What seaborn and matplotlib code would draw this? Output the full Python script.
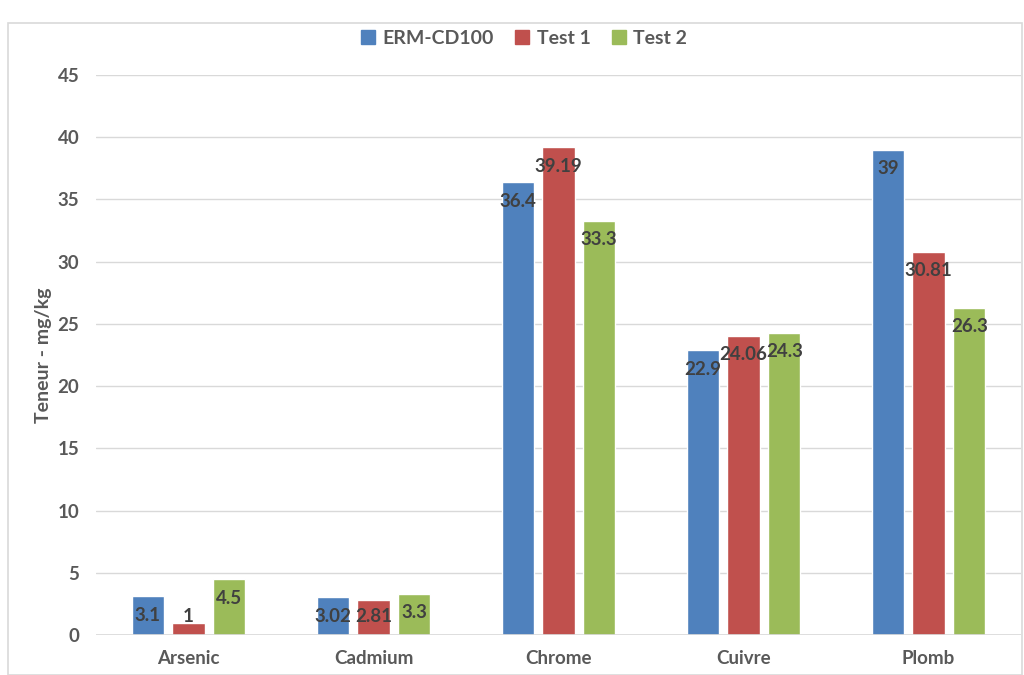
import seaborn as sns
import pandas as pd
import matplotlib.pyplot as plt
from matplotlib.patches import Rectangle

elements = ["Arsenic", "Cadmium", "Chrome", "Cuivre", "Plomb"]
series = ["ERM-CD100", "Test 1", "Test 2"]
erm = [3.1, 3.02, 36.4, 22.9, 39]
test1 = [1, 2.81, 39.19, 24.06, 30.81]
test2 = [4.5, 3.3, 33.3, 24.3, 26.3]
labels = [["3.1", "3.02", "36.4", "22.9", "39"],
          ["1", "2.81", "39.19", "24.06", "30.81"],
          ["4.5", "3.3", "33.3", "24.3", "26.3"]]
colors = ["#4F81BD", "#C0504D", "#9BBB59"]

df = pd.DataFrame({
    "element": elements * 3,
    "serie": [s for s in series for _ in elements],
    "valeur": erm + test1 + test2,
})

sns.set_style("white")
plt.rcParams["font.family"] = ["Lato", "DejaVu Sans"]

fig = plt.figure(figsize=(10.24, 6.75), dpi=100)
ax = fig.add_axes([96 / 1024, 40 / 675, 925 / 1024, 560 / 675])
sns.barplot(data=df, x="element", y="valeur", hue="serie", palette=colors,
            saturation=1, width=0.66, gap=0.2, ax=ax, legend=False)

ax.set_ylim(0, 45)
ax.set_yticks(range(0, 46, 5))
ax.set_xlim(-0.5, 4.5)
ax.yaxis.grid(True, color="#d9d9d9", linewidth=1)
ax.set_axisbelow(True)
for s in ax.spines.values():
    s.set_visible(False)
ax.axhline(0, color="#d9d9d9", linewidth=1.2)
ax.tick_params(length=0, labelsize=13.5, labelcolor="#595959", pad=12)
for t in ax.get_yticklabels() + ax.get_xticklabels():
    t.set_fontweight("bold")
ax.tick_params(axis="x", pad=11)
ax.set_xlabel("")
ax.set_ylabel("Teneur - mg/kg", fontsize=14, fontweight="bold", color="#595959", labelpad=4)

# data labels, inside end like Excel
for i, cont in enumerate(ax.containers):
    for j, bar in enumerate(cont):
        v = bar.get_height()
        yc = max(v - 1.53, 1.45)
        ax.text(bar.get_x() + bar.get_width() / 2, yc, labels[i][j],
                ha="center", va="center", fontsize=13.5, fontweight="bold", color="#404040")

handles = [Rectangle((0, 0), 1, 1, color=c) for c in colors]
fig.legend(handles, series, loc="center", bbox_to_anchor=(0.512, 1 - 38 / 675),
           ncol=3, frameon=False, handlelength=0.7, handleheight=0.7,
           handletextpad=0.4, columnspacing=1.1,
           prop={"size": 14, "weight": "bold"}, labelcolor="#595959")

fig.add_artist(Rectangle((8 / 1024, 0), 1014 / 1024, (675 - 23) / 675,
                         transform=fig.transFigure, fill=False,
                         edgecolor="#d9d9d9", linewidth=1.2))

fig.savefig("out.png", dpi=100)
